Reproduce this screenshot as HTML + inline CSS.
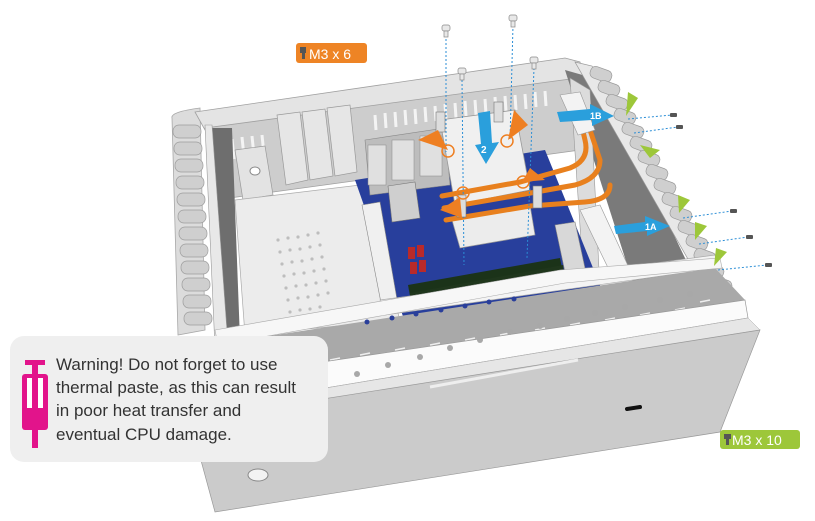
<!DOCTYPE html>
<html><head><meta charset="utf-8"><style>
html,body{margin:0;padding:0;background:#fff;width:815px;height:521px;overflow:hidden}
svg{display:block}
.t{font-family:"Liberation Sans",sans-serif}
</style></head><body>
<svg width="815" height="521" viewBox="0 0 815 521" xmlns="http://www.w3.org/2000/svg">
<path d="M172 118 Q170 112 200 108 L205 330 L178 335 Z" fill="#dcdcdc" stroke="#a8a8a8" stroke-width="0.8"/>
<g fill="#cfcfcf" stroke="#9c9c9c" stroke-width="0.7">
<rect x="173" y="125" width="28" height="13" rx="6"/><rect x="174" y="142" width="28" height="13" rx="6"/>
<rect x="175" y="159" width="28" height="13" rx="6"/><rect x="176" y="176" width="28" height="13" rx="6"/>
<rect x="177" y="193" width="28" height="13" rx="6"/><rect x="178" y="210" width="28" height="13" rx="6"/>
<rect x="179" y="227" width="28" height="13" rx="6"/><rect x="180" y="244" width="28" height="13" rx="6"/>
<rect x="181" y="261" width="28" height="13" rx="6"/><rect x="182" y="278" width="28" height="13" rx="6"/>
<rect x="183" y="295" width="28" height="13" rx="6"/><rect x="184" y="312" width="28" height="13" rx="6"/>
</g>
<path d="M195 112 L565 58 L580 62 L585 80 L205 130 Z" fill="#e4e4e4" stroke="#a0a0a0" stroke-width="0.8"/>
<path d="M205 128 L578 78 L580 150 L215 200 Z" fill="#cdcdcd" stroke="#a0a0a0" stroke-width="0.8"/>
<g stroke="#f4f4f4" stroke-width="3">
<line x1="222" y1="140" x2="224" y2="160"/><line x1="232" y1="139" x2="234" y2="159"/><line x1="242" y1="137" x2="244" y2="157"/><line x1="252" y1="136" x2="254" y2="156"/><line x1="262" y1="135" x2="264" y2="155"/>
<line x1="375" y1="115" x2="376" y2="130"/><line x1="385" y1="113" x2="386" y2="128"/><line x1="395" y1="112" x2="396" y2="127"/><line x1="405" y1="110" x2="406" y2="125"/><line x1="415" y1="109" x2="416" y2="124"/><line x1="425" y1="107" x2="426" y2="122"/><line x1="435" y1="106" x2="436" y2="121"/><line x1="445" y1="104" x2="446" y2="119"/><line x1="455" y1="103" x2="456" y2="118"/><line x1="465" y1="101" x2="466" y2="116"/><line x1="475" y1="100" x2="476" y2="115"/><line x1="485" y1="99" x2="486" y2="114"/><line x1="495" y1="97" x2="496" y2="112"/><line x1="505" y1="96" x2="506" y2="111"/><line x1="515" y1="95" x2="516" y2="110"/><line x1="525" y1="94" x2="526" y2="109"/><line x1="535" y1="92" x2="536" y2="107"/><line x1="545" y1="91" x2="546" y2="106"/>
</g>
<path d="M277 115 L300 112 L308 180 L286 185 Z" fill="#e6e6e6" stroke="#999" stroke-width="0.7"/>
<path d="M302 112 L325 109 L333 176 L310 180 Z" fill="#e6e6e6" stroke="#999" stroke-width="0.7"/>
<path d="M327 108 L350 105 L357 172 L335 176 Z" fill="#e6e6e6" stroke="#999" stroke-width="0.7"/>
<path d="M235 150 L265 146 L273 195 L243 200 Z" fill="#e3e3e3" stroke="#999" stroke-width="0.7"/>
<ellipse cx="255" cy="171" rx="5" ry="4" fill="#fff" stroke="#888"/>
<path d="M208 128 L232 128 L240 340 L220 345 Z" fill="#6e6e6e"/>
<path d="M205 125 L212 125 L228 345 L215 348 Z" fill="#e8e8e8" stroke="#999" stroke-width="0.6"/>
<path d="M235 200 L360 185 L400 320 L245 335 Z" fill="#ececec" stroke="#aaa" stroke-width="0.7"/>
<g fill="#bdbdbd">
<circle cx="278" cy="240" r="1.6"/><circle cx="288" cy="238" r="1.6"/><circle cx="298" cy="237" r="1.6"/><circle cx="308" cy="235" r="1.6"/><circle cx="318" cy="233" r="1.6"/>
<circle cx="280" cy="252" r="1.6"/><circle cx="290" cy="250" r="1.6"/><circle cx="300" cy="249" r="1.6"/><circle cx="310" cy="247" r="1.6"/><circle cx="320" cy="245" r="1.6"/>
<circle cx="282" cy="264" r="1.6"/><circle cx="292" cy="262" r="1.6"/><circle cx="302" cy="261" r="1.6"/><circle cx="312" cy="259" r="1.6"/><circle cx="322" cy="257" r="1.6"/>
<circle cx="284" cy="276" r="1.6"/><circle cx="294" cy="274" r="1.6"/><circle cx="304" cy="273" r="1.6"/><circle cx="314" cy="271" r="1.6"/><circle cx="324" cy="269" r="1.6"/>
<circle cx="286" cy="288" r="1.6"/><circle cx="296" cy="286" r="1.6"/><circle cx="306" cy="285" r="1.6"/><circle cx="316" cy="283" r="1.6"/><circle cx="326" cy="281" r="1.6"/>
<circle cx="288" cy="300" r="1.6"/><circle cx="298" cy="298" r="1.6"/><circle cx="308" cy="297" r="1.6"/><circle cx="318" cy="295" r="1.6"/><circle cx="328" cy="293" r="1.6"/>
<circle cx="290" cy="312" r="1.6"/><circle cx="300" cy="310" r="1.6"/><circle cx="310" cy="309" r="1.6"/><circle cx="320" cy="307" r="1.6"/>
</g>
<path d="M565 70 L600 80 L705 300 L640 305 Z" fill="#7a7a7a"/>
<path d="M570 78 L590 90 L600 290 L585 300 Z" fill="#dcdcdc" stroke="#999" stroke-width="0.6"/>
<path d="M575 62 L592 66 L735 310 L720 315 Z" fill="#e8e8e8" stroke="#999" stroke-width="0.7"/>
<g fill="#cfcfcf" stroke="#9a9a9a" stroke-width="0.7">
<rect x="590" y="68" width="22" height="12" rx="5" transform="rotate(20 600 74)"/>
<rect x="598" y="82" width="22" height="12" rx="5" transform="rotate(20 608 88)"/>
<rect x="606" y="96" width="22" height="12" rx="5" transform="rotate(20 616 102)"/>
<rect x="614" y="110" width="22" height="12" rx="5" transform="rotate(20 624 116)"/>
<rect x="622" y="124" width="22" height="12" rx="5" transform="rotate(20 632 130)"/>
<rect x="630" y="138" width="22" height="12" rx="5" transform="rotate(20 640 144)"/>
<rect x="638" y="152" width="22" height="12" rx="5" transform="rotate(20 648 158)"/>
<rect x="646" y="166" width="22" height="12" rx="5" transform="rotate(20 656 172)"/>
<rect x="654" y="180" width="22" height="12" rx="5" transform="rotate(20 664 186)"/>
<rect x="662" y="194" width="22" height="12" rx="5" transform="rotate(20 672 200)"/>
<rect x="670" y="208" width="22" height="12" rx="5" transform="rotate(20 680 214)"/>
<rect x="678" y="222" width="22" height="12" rx="5" transform="rotate(20 688 228)"/>
<rect x="686" y="236" width="22" height="12" rx="5" transform="rotate(20 696 242)"/>
<rect x="694" y="250" width="22" height="12" rx="5" transform="rotate(20 704 256)"/>
<rect x="702" y="264" width="22" height="12" rx="5" transform="rotate(20 712 270)"/>
<rect x="710" y="278" width="22" height="12" rx="5" transform="rotate(20 720 284)"/>
</g>
<path d="M355 180 L545 150 L602 290 L405 322 Z" fill="#283f9c"/>
<path d="M362 205 L380 202 L398 305 L382 308 Z" fill="#f0f0f0" stroke="#888" stroke-width="0.6"/>
<path d="M365 140 L445 128 L450 185 L370 195 Z" fill="#bdbdbd" stroke="#888" stroke-width="0.6"/>
<rect x="368" y="145" width="18" height="40" fill="#e0e0e0" stroke="#888" stroke-width="0.5"/>
<rect x="392" y="140" width="22" height="40" fill="#e0e0e0" stroke="#888" stroke-width="0.5"/>
<rect x="420" y="136" width="22" height="40" fill="#e0e0e0" stroke="#888" stroke-width="0.5"/>
<path d="M388 186 L415 182 L420 218 L392 222 Z" fill="#cfcfcf" stroke="#777" stroke-width="0.6"/>
<path d="M440 120 L515 110 L530 190 L455 205 Z" fill="#f0f0f0" stroke="#999" stroke-width="0.8"/>
<path d="M452 220 L530 205 L535 235 L460 248 Z" fill="#ececec" stroke="#999" stroke-width="0.7"/>
<g stroke="#e8801e" stroke-width="5" fill="none" stroke-linecap="round">
<path d="M442 196 L520 182 L570 168 Q590 160 585 140 L578 110"/>
<path d="M444 208 L525 194 L575 185 Q600 178 600 160 L590 130"/>
<path d="M446 220 L530 206 L585 202 Q610 200 610 185"/>
</g>
<path d="M555 225 L575 222 L585 268 L565 272 Z" fill="#d8d8d8" stroke="#888" stroke-width="0.6"/>
<g fill="#b92a2a"><rect x="408" y="247" width="7" height="12"/><rect x="417" y="245" width="7" height="12"/><rect x="410" y="262" width="7" height="12"/><rect x="419" y="260" width="7" height="12"/></g>
<path d="M408 285 L560 258 L562 268 L410 296 Z" fill="#1b3319"/>
<path d="M410 293 L563 265 L565 280 L413 310 Z" fill="#1f361c"/>
<path d="M580 210 L600 205 L630 270 L612 276 Z" fill="#f3f3f3" stroke="#999" stroke-width="0.6"/>
<path d="M560 95 L580 92 L595 130 L578 135 Z" fill="#f3f3f3" stroke="#999" stroke-width="0.6"/>
<path d="M380 300 L715 255 L718 268 L385 315 Z" fill="#f4f4f4" stroke="#aaa" stroke-width="0.7"/>
<path d="M210 345 L715 268 L745 300 L220 380 Z" fill="#a9a9a9"/>
<g stroke="#eee" stroke-width="1.5">
<line x1="330" y1="360" x2="340" y2="358"/><line x1="360" y1="355" x2="370" y2="353"/><line x1="395" y1="350" x2="405" y2="348"/><line x1="430" y1="345" x2="440" y2="343"/><line x1="465" y1="340" x2="475" y2="338"/><line x1="500" y1="335" x2="510" y2="333"/><line x1="535" y1="330" x2="545" y2="328"/><line x1="570" y1="325" x2="580" y2="323"/><line x1="605" y1="320" x2="615" y2="318"/><line x1="640" y1="315" x2="650" y2="313"/><line x1="675" y1="310" x2="685" y2="308"/><line x1="700" y1="302" x2="710" y2="300"/>
<line x1="330" y1="366" x2="340" y2="364"/><line x1="360" y1="361" x2="370" y2="359"/><line x1="395" y1="356" x2="405" y2="354"/><line x1="430" y1="351" x2="440" y2="349"/><line x1="465" y1="346" x2="475" y2="344"/><line x1="500" y1="341" x2="510" y2="339"/><line x1="535" y1="336" x2="545" y2="334"/><line x1="570" y1="331" x2="580" y2="329"/><line x1="605" y1="326" x2="615" y2="324"/><line x1="640" y1="321" x2="650" y2="319"/>
</g>
<path d="M215 330 L560 270 L720 258 L722 268 L565 283 L218 345 Z" fill="#f7f7f7" stroke="#aaa" stroke-width="0.6"/>
<g fill="#2a3f9a"><circle cx="367" cy="322" r="2.5"/><circle cx="392" cy="318" r="2.5"/><circle cx="416" cy="314" r="2.5"/><circle cx="441" cy="310" r="2.5"/><circle cx="465" cy="306" r="2.5"/><circle cx="489" cy="302" r="2.5"/><circle cx="514" cy="299" r="2.5"/></g>
<path d="M200 380 L745 300 L748 318 L205 408 Z" fill="#fbfbfb" stroke="#999" stroke-width="0.7"/>
<path d="M205 408 L748 318 L760 330 L210 418 Z" fill="#e6e6e6" stroke="#aaa" stroke-width="0.5"/>
<g fill="#a8a8a8"><circle cx="325" cy="384" r="3"/><circle cx="357" cy="374" r="3"/><circle cx="388" cy="365" r="3"/><circle cx="420" cy="357" r="3"/><circle cx="450" cy="348" r="3"/><circle cx="480" cy="340" r="3"/><circle cx="510" cy="332" r="3"/><circle cx="540" cy="326" r="3"/><circle cx="567" cy="319" r="3"/><circle cx="595" cy="313" r="3"/><circle cx="625" cy="307" r="3"/><circle cx="660" cy="300" r="3"/><circle cx="690" cy="294" r="3"/></g>
<path d="M190 420 L760 330 L720 432 L215 512 Z" fill="#cbcbcb" stroke="#999" stroke-width="0.7"/>
<path d="M430 387 L578 360" stroke="#eee" stroke-width="3"/>
<path d="M627 409 L640 407" stroke="#111" stroke-width="4" stroke-linecap="round"/>
<ellipse cx="258" cy="475" rx="10" ry="6" fill="#f3f3f3" stroke="#888"/>
<g stroke="#2b8ed6" stroke-width="1" stroke-dasharray="2,2" fill="none">
<line x1="446" y1="35" x2="446" y2="152"/><line x1="462" y1="80" x2="464" y2="265"/>
<line x1="513" y1="25" x2="510" y2="140"/><line x1="534" y1="68" x2="527" y2="258"/>
<line x1="628" y1="119" x2="672" y2="115"/><line x1="634" y1="133" x2="678" y2="127"/>
<line x1="683" y1="218" x2="732" y2="211"/><line x1="699" y1="244" x2="748" y2="237"/><line x1="718" y1="270" x2="767" y2="265"/>
</g>
<g fill="#e8e8e8" stroke="#888" stroke-width="0.7">
<rect x="442" y="25" width="8" height="6" rx="2"/><rect x="444" y="31" width="4" height="6"/>
<rect x="458" y="68" width="8" height="6" rx="2"/><rect x="460" y="74" width="4" height="6"/>
<rect x="509" y="15" width="8" height="6" rx="2"/><rect x="511" y="21" width="4" height="6"/>
<rect x="530" y="57" width="8" height="6" rx="2"/><rect x="532" y="63" width="4" height="6"/>
</g>
<g fill="#ddd" stroke="#777" stroke-width="0.6">
<rect x="436" y="112" width="9" height="20"/><rect x="494" y="102" width="9" height="20"/><rect x="457" y="195" width="9" height="22"/><rect x="533" y="186" width="9" height="22"/>
</g>
<g fill="#ee7f22">
<path d="M418 140 L438 130 L448 150 Z"/><path d="M514 110 L528 125 L508 140 Z"/><path d="M530 168 L545 180 L522 182 Z"/><path d="M440 210 L460 197 L462 218 Z"/>
</g>
<g fill="none" stroke="#ee7f22" stroke-width="1.5">
<circle cx="448" cy="151" r="6"/><circle cx="507" cy="141" r="6"/><circle cx="523" cy="182" r="6"/><circle cx="463" cy="193" r="6"/>
</g>
<path d="M478 113 L490 111 L492 143 L499 142 L486 164 L475 145 L481 144 Z" fill="#2a9fdc"/>
<text x="481" y="153" class="t" font-size="10" font-weight="bold" fill="#fff">2</text>
<path d="M557 112 L590 109 L590 104 L614 116 L592 126 L592 120 L560 122 Z" fill="#2a9fdc"/>
<text x="590" y="119" class="t" font-size="9" font-weight="bold" fill="#fff">1B</text>
<path d="M614 226 L645 222 L645 216 L670 226 L647 236 L647 231 L616 234 Z" fill="#2a9fdc"/>
<text x="645" y="230" class="t" font-size="9" font-weight="bold" fill="#fff">1A</text>
<g fill="#9dc73a">
<path d="M626 116 L628 92 L638 98 Z"/><path d="M640 145 L660 150 L650 158 Z"/>
<path d="M679 213 L678 195 L690 200 Z"/><path d="M695 240 L695 222 L707 226 Z"/><path d="M714 266 L716 248 L727 252 Z"/>
</g>
<g fill="#555"><rect x="670" y="113" width="7" height="4" rx="1"/><rect x="676" y="125" width="7" height="4" rx="1"/><rect x="730" y="209" width="7" height="4" rx="1"/><rect x="746" y="235" width="7" height="4" rx="1"/><rect x="765" y="263" width="7" height="4" rx="1"/></g>
<rect x="296" y="43" width="71" height="20" rx="3" fill="#ee8425"/>
<rect x="300" y="47" width="6" height="6" fill="#555"/><rect x="302" y="53" width="3" height="6" fill="#555"/>
<text x="309" y="59" class="t" font-size="14" fill="#fff">M3 x 6</text>
<rect x="720" y="430" width="80" height="19" rx="3" fill="#9dc73a"/>
<rect x="724" y="434" width="7" height="5" fill="#555"/><rect x="726" y="439" width="3" height="6" fill="#555"/>
<text x="732" y="445" class="t" font-size="14" fill="#fff">M3 x 10</text>
<rect x="10" y="336" width="318" height="126" rx="14" fill="#efefef"/>
<g fill="#e2148b">
<rect x="25" y="360" width="20" height="5"/><rect x="32" y="364" width="6" height="10"/>
<rect x="22" y="374" width="26" height="56" rx="3"/><rect x="32" y="430" width="6" height="18"/>
</g>
<rect x="27" y="378" width="5" height="30" fill="#fff"/><rect x="38" y="378" width="5" height="30" fill="#fff"/>
<g class="t" font-size="17" fill="#333">
<text x="56" y="370">Warning! Do not forget to use</text>
<text x="56" y="393">thermal paste, as this can result</text>
<text x="56" y="416">in poor heat transfer and</text>
<text x="56" y="440">eventual CPU damage.</text>
</g>
</svg>
</body></html>
